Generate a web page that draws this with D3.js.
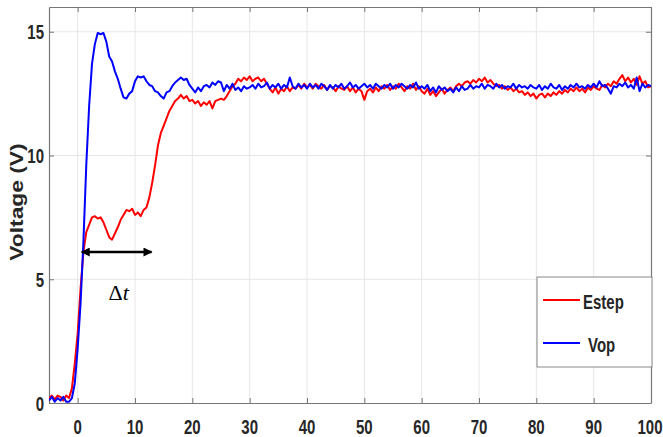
<!DOCTYPE html>
<html>
<head>
<meta charset="utf-8">
<script src="https://cdn.jsdelivr.net/npm/d3@7"></script>
<style>
  html, body { margin: 0; padding: 0; background: #fff; }
  svg { display: block; }
  .lbl { font-family: "Liberation Sans", Arial, sans-serif; font-weight: bold; fill: #262626; }
</style>
</head>
<body>
<div id="chart"></div>
<script>
// sample times: -5 .. 100, every 0.5
const time = d3.range(-5, 100.001, 0.5);

const estep = [
  0.2, 0.3, 0.15, 0.3, 0.25, 0.1, 0.3, 0.2, 0.6, 1.6,
  2.8, 4.6, 6.1, 6.9, 7.2, 7.5, 7.55, 7.45, 7.5, 7.3,
  7.0, 6.7, 6.6, 6.85, 7.1, 7.4, 7.6, 7.8, 7.75, 7.85,
  7.6, 7.7, 7.55, 7.8, 7.9, 8.3, 8.9, 9.6, 10.4, 10.9,
  11.2, 11.5, 11.8, 12.0, 12.2, 12.3, 12.45, 12.3, 12.4, 12.2,
  12.25, 12.1, 12.2, 12.0, 12.15, 12.05, 12.2, 11.9, 12.2, 12.25,
  12.3, 12.25, 12.4, 12.6, 12.8, 12.9, 13.1, 13.0, 13.15, 13.05,
  13.2, 13.0, 13.1, 13.15, 13.0, 13.1, 12.9, 12.7, 12.55, 12.75,
  12.5, 12.7, 12.6, 12.8, 12.6, 12.75, 12.7, 12.85, 12.7, 12.9,
  12.75, 12.85, 12.7, 12.9, 12.8, 12.7, 12.85, 12.65, 12.8, 12.75,
  12.6, 12.8, 12.7, 12.65, 12.8, 12.6, 12.75, 12.55, 12.7, 12.6,
  12.25, 12.6, 12.7, 12.55, 12.75, 12.6, 12.8, 12.7, 12.85, 12.65,
  12.8, 12.7, 12.9, 12.75, 12.6, 12.8, 12.7, 12.9, 12.65, 12.8,
  12.6, 12.5, 12.7, 12.45, 12.6, 12.4, 12.55, 12.7, 12.5, 12.65,
  12.75, 12.6, 12.8, 12.9, 12.8, 12.95, 13.0, 12.9, 13.05, 12.95,
  13.1, 13.0, 13.15, 12.95, 13.05, 12.9, 12.8, 12.85, 12.7, 12.8,
  12.65, 12.75, 12.6, 12.7, 12.55, 12.6, 12.45, 12.55, 12.4, 12.5,
  12.3, 12.45, 12.5, 12.35, 12.5, 12.4, 12.55, 12.45, 12.6, 12.5,
  12.65, 12.55, 12.7, 12.6, 12.75, 12.6, 12.7, 12.55, 12.75, 12.65,
  12.8, 12.7, 12.65, 12.85, 12.75, 12.9, 12.8, 13.0, 12.9, 13.1,
  13.25, 13.0, 13.15, 12.95, 13.1, 12.85, 13.2, 12.9, 13.0, 12.75,
  12.8
];

const vop = [
  0.1, 0.25, 0.05, 0.2, 0.1, 0.25, 0.05, 0.05, 0.2, 0.8,
  2.2, 4.0, 6.5, 9.6, 12.0, 13.7, 14.5, 14.95, 14.9, 14.95,
  14.6, 14.0, 13.8, 13.4, 13.1, 12.7, 12.35, 12.3, 12.5, 12.6,
  13.0, 13.2, 13.15, 13.2, 13.0, 12.85, 12.8, 12.6, 12.55, 12.4,
  12.3, 12.55, 12.6, 12.8, 12.95, 13.05, 13.15, 13.05, 13.1, 12.85,
  12.7, 12.55, 12.75, 12.6, 12.8, 12.85, 12.75, 12.95, 12.85, 13.0,
  12.95, 12.6, 12.85, 12.7, 12.9, 12.65, 12.75, 12.6, 12.8, 12.7,
  12.75, 12.85, 12.7, 12.9, 12.75, 12.8, 12.95, 12.7, 12.85, 12.75,
  12.9, 12.7, 12.85, 12.75, 13.15, 12.8, 12.7, 12.9, 12.75, 12.85,
  12.7, 12.9, 12.75, 12.85, 12.7, 12.9, 12.8, 12.65, 12.85, 12.7,
  12.85, 12.75, 12.9, 12.7, 12.8, 12.95, 12.75, 12.85, 12.7, 12.8,
  12.9, 12.75, 12.85, 12.7, 12.9, 12.8, 12.7, 12.85, 12.75, 12.9,
  12.7, 12.85, 12.75, 12.9, 12.8, 12.7, 12.85, 12.75, 12.95, 12.7,
  12.8, 12.7, 12.85, 12.6, 12.75, 12.55, 12.8, 12.65, 12.75, 12.6,
  12.7, 12.55, 12.75, 12.6, 12.8, 12.65, 12.7, 12.85, 12.7, 12.8,
  12.75, 12.9, 12.7, 12.85, 12.8, 12.7, 12.9, 12.75, 12.85, 12.7,
  12.8, 12.75, 12.9, 12.7, 12.85, 12.75, 12.8, 12.7, 12.85, 12.75,
  12.7, 12.85, 12.65, 12.8, 12.7, 12.9, 12.75, 12.7, 12.85, 12.65,
  12.8, 12.7, 12.85, 12.75, 12.9, 12.75, 12.8, 12.7, 12.85, 12.75,
  12.9, 12.75, 13.0, 12.8, 12.85, 12.7, 12.5, 12.8, 12.75, 12.9,
  12.8, 12.95, 12.75, 12.85, 12.7, 13.15, 12.6, 12.9, 12.75, 12.85,
  12.8
];

const xTicks = [0, 10, 20, 30, 40, 50, 60, 70, 80, 90, 100];
const yTicks = [0, 5, 10, 15];
const seriesNames = ["Estep", "Vop"];
const seriesColors = ["#ff0000", "#0000ff"];
// delay annotation (start, end, level)
const deltaT = [0.7, 12.9, 6.1];

const width = 663, height = 437;
const margin = {top: 7, right: 12, bottom: 34, left: 49};
const stretch = 1.4; // text in the picture is drawn tall

const x = d3.scaleLinear().domain([-5, 100]).range([margin.left, width - margin.right]);
const y = d3.scaleLinear().domain([0, 16]).range([height - margin.bottom, margin.top]);

const svg = d3.select("#chart").append("svg")
  .attr("width", width)
  .attr("height", height);

const defs = svg.append("defs");
defs.append("clipPath").attr("id", "plot-clip")
  .append("rect")
  .attr("x", x.range()[0]).attr("y", y.range()[1])
  .attr("width", x.range()[1] - x.range()[0])
  .attr("height", y.range()[0] - y.range()[1]);

// tall label helper: text centred vertically on (px, py)
function tallText(parent, px, py, str, anchor, size) {
  return parent.append("g")
    .attr("transform", `translate(${px},${py}) scale(1,${stretch})`)
    .append("text")
    .attr("class", "lbl")
    .attr("font-size", size)
    .attr("text-anchor", anchor)
    .attr("dy", "0.36em")
    .text(str);
}

// grid
svg.append("g").selectAll("line")
  .data(xTicks.filter(d => d > -5 && d < 100))
  .enter().append("line")
  .attr("x1", d => x(d)).attr("x2", d => x(d))
  .attr("y1", y.range()[0]).attr("y2", y.range()[1])
  .attr("stroke", "#e6e6e6").attr("stroke-width", 1);

svg.append("g").selectAll("line")
  .data(yTicks.filter(d => d > 0))
  .enter().append("line")
  .attr("x1", x.range()[0]).attr("x2", x.range()[1])
  .attr("y1", d => y(d)).attr("y2", d => y(d))
  .attr("stroke", "#e6e6e6").attr("stroke-width", 1);

// axes (box + inward ticks)
const axes = [
  svg.append("g").attr("transform", `translate(0,${y.range()[0]})`)
    .call(d3.axisBottom(x).tickValues(xTicks).tickSizeInner(-5).tickSizeOuter(0).tickFormat("")),
  svg.append("g").attr("transform", `translate(${x.range()[0]},0)`)
    .call(d3.axisLeft(y).tickValues(yTicks).tickSizeInner(-5).tickSizeOuter(0).tickFormat("")),
  svg.append("g").attr("transform", `translate(0,${y.range()[1]})`)
    .call(d3.axisTop(x).tickValues(xTicks).tickSizeInner(-5).tickSizeOuter(0).tickFormat("")),
  svg.append("g").attr("transform", `translate(${x.range()[1]},0)`)
    .call(d3.axisRight(y).tickValues(yTicks).tickSizeInner(-5).tickSizeOuter(0).tickFormat(""))
];
axes.forEach(g => {
  g.select(".domain").attr("stroke", "#777").attr("stroke-width", 1.2);
  g.selectAll(".tick line").attr("stroke", "#777");
});

// tick labels
const tickLabels = svg.append("g");
xTicks.forEach(d => tallText(tickLabels, Math.min(x(d), width - 13), 426, d, "middle", 15));
yTicks.forEach(d => tallText(tickLabels, 44, y(d), d, "end", 15));

// series
const line = d3.line()
  .x((d, i) => x(time[i]))
  .y(d => y(d));

const plot = svg.append("g").attr("clip-path", "url(#plot-clip)");
[estep, vop].forEach((s, k) => {
  plot.append("path")
    .datum(s)
    .attr("fill", "none")
    .attr("stroke", seriesColors[k])
    .attr("stroke-width", 2)
    .attr("stroke-linejoin", "round")
    .attr("d", line);
});

// y label (stretched along its length)
svg.append("g")
  .attr("transform", `translate(16,202) rotate(-90) scale(1.2,1)`)
  .append("text")
  .attr("class", "lbl")
  .attr("font-size", 19)
  .attr("text-anchor", "middle")
  .attr("dy", "0.36em")
  .text("Voltage (V)");

// delta t arrow
defs.append("marker")
  .attr("id", "arrow").attr("viewBox", "0 0 10 10")
  .attr("refX", 9).attr("refY", 5)
  .attr("markerWidth", 4.2).attr("markerHeight", 3.6)
  .attr("orient", "auto-start-reverse")
  .append("path").attr("d", "M0,0L10,5L0,10z").attr("fill", "#000");

svg.append("line")
  .attr("x1", x(deltaT[0])).attr("x2", x(deltaT[1]))
  .attr("y1", y(deltaT[2])).attr("y2", y(deltaT[2]))
  .attr("stroke", "#000").attr("stroke-width", 2.5)
  .attr("marker-start", "url(#arrow)")
  .attr("marker-end", "url(#arrow)");

const dt = svg.append("text")
  .attr("x", (x(deltaT[0]) + x(deltaT[1])) / 2 + 2)
  .attr("y", 300)
  .attr("text-anchor", "middle")
  .attr("font-family", "'Liberation Serif', 'Times New Roman', serif")
  .attr("font-size", 22)
  .attr("fill", "#000");
dt.append("tspan").text("\u0394");
dt.append("tspan").attr("font-style", "italic").text("t");

// legend
const legend = svg.append("g").attr("transform", "translate(537,277)");
legend.append("rect")
  .attr("width", 115).attr("height", 90)
  .attr("fill", "#fff").attr("stroke", "#888").attr("stroke-width", 1);
const legendRows = [23, 66];
seriesNames.forEach((name, k) => {
  legend.append("line")
    .attr("x1", 6).attr("x2", 43)
    .attr("y1", legendRows[k]).attr("y2", legendRows[k])
    .attr("stroke", seriesColors[k]).attr("stroke-width", 2);
  tallText(legend, k === 0 ? 46 : 51, legendRows[k] + 1, name, "start", 15);
});
</script>
</body>
</html>
